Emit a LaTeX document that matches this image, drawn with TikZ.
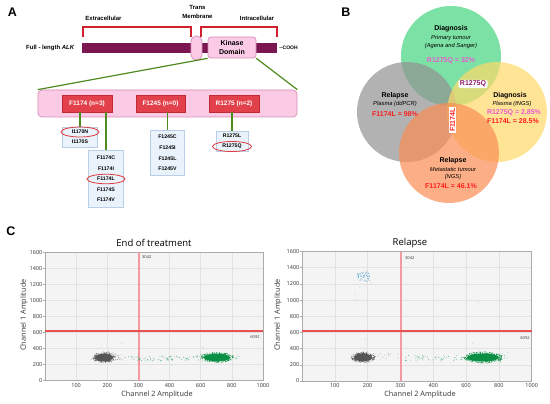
\documentclass[tikz,border=0pt]{standalone}
\usepackage{fontspec}
\setmainfont{Liberation Sans}
\newfontfamily\plotfont{Open Sans}
\usetikzlibrary{shapes.geometric}
\definecolor{barcol}{HTML}{7B1750}
\definecolor{pinkfill}{HTML}{FBCBE6}
\definecolor{pinkdraw}{HTML}{D88AB8}
\definecolor{glinecol}{HTML}{4F8A1F}
\definecolor{redfill}{HTML}{E2404A}
\definecolor{reddraw}{HTML}{C02A35}
\definecolor{listfill}{HTML}{EAF2FB}
\definecolor{listdraw}{HTML}{B9CFE8}
\definecolor{ellred}{HTML}{E03A3A}
\definecolor{brackcol}{HTML}{D0202E}
\definecolor{vgreen}{HTML}{45D47E}
\definecolor{vgray}{HTML}{919191}
\definecolor{vyellow}{HTML}{FFD869}
\definecolor{vorange}{HTML}{FB8D54}
\definecolor{pinktxt}{HTML}{EA5BD0}
\definecolor{redtxt}{HTML}{FF1E1E}
\definecolor{purptxt}{HTML}{8C1C6E}
\definecolor{framefill}{HTML}{F4F4F4}
\definecolor{gridcol}{HTML}{E2E2E2}
\definecolor{framecol}{HTML}{ABABAB}
\definecolor{ticktxt}{HTML}{333333}
\definecolor{ptgray}{HTML}{555555}
\definecolor{ptgreen}{HTML}{0B8F45}
\definecolor{ptblue}{HTML}{3A9BCB}
\definecolor{ptorange}{HTML}{F2B48A}
\definecolor{thrvcol}{HTML}{F39AA0}
\definecolor{thrhcol}{HTML}{EC4F53}
\newcommand\myblob[7]{%
  \foreach \i in {1,...,#5}{%
    \pgfmathsetmacro\rr{sqrt(rnd)}%
    \pgfmathsetmacro\aa{360*rnd}%
    \fill[#6] ({#1+#3*\rr*cos(\aa)},{#2+#4*\rr*sin(\aa)}) circle (#7pt);
  }}
\newcommand\mystrip[7]{%
  \foreach \i in {1,...,#5}{%
    \pgfmathsetmacro\qx{#1+(#2-#1)*rnd}%
    \pgfmathsetmacro\qy{#3+#4*rand}%
    \fill[#6] (\qx,\qy) circle (#7pt);
  }}
\tikzset{
  panellbl/.style={font=\bfseries\fontsize{12.5}{13}\selectfont, inner sep=0},
  headtxt/.style={font=\bfseries\fontsize{6}{9}\selectfont, inner sep=0, align=center},
  bracket/.style={draw=brackcol, line width=1.2pt},
  pinkbox/.style={fill=pinkfill, draw=pinkdraw, line width=0.7pt, inner sep=0},
  gline/.style={draw=glinecol, line width=1.2pt},
  redbox/.style={fill=redfill, draw=reddraw, line width=0.5pt, inner sep=0, minimum height=17, text=white, font=\bfseries\fontsize{6.5}{7}\selectfont},
  listbox/.style={fill=listfill, draw=listdraw, line width=0.6pt, inner sep=0},
  item/.style={font=\bfseries\fontsize{5.2}{6}\selectfont, inner sep=0},
  redell/.style={ellipse, draw=ellred, line width=0.8pt, inner sep=0},
  vcirc/.style={circle, minimum size=100, inner sep=0, fill opacity=0.7},
  vhead/.style={font=\bfseries\fontsize{7}{8}\selectfont, inner sep=0},
  vsub/.style={font=\itshape\fontsize{5.8}{7}\selectfont, inner sep=0},
  vval/.style={font=\bfseries\fontsize{7}{8}\selectfont, inner sep=0},
  plotframe/.style={draw=framecol, line width=0.8pt},
  gridln/.style={draw=gridcol, line width=0.5pt},
  ticklbl/.style={font=\plotfont\fontsize{5.5}{6}\selectfont, text=ticktxt, inner sep=0},
  axtitle/.style={font=\plotfont\fontsize{7.3}{8}\selectfont, text=ticktxt, inner sep=0},
  ptitle/.style={font=\plotfont\fontsize{9.5}{10}\selectfont, inner sep=0},
  thrlbl/.style={font=\plotfont\fontsize{4}{5}\selectfont, text=ticktxt, inner sep=0},
  thrv/.style={draw=thrvcol, line width=2pt},
  thrh/.style={draw=thrhcol, line width=1.6pt},
}
\begin{document}
\begin{tikzpicture}[x=1pt,y=-1pt]
\useasboundingbox (0,0) rectangle (550,404);
\pgfmathsetseed{7}
% ================= Panel A =================
\node[panellbl] (labA) at (12.5,12.5) {A};
\node[headtxt] (extra) at (103.5,18) {Extracellular};
\node[headtxt] (trans) at (197.5,11.5) {Trans\\Membrane};
\node[headtxt] (intra) at (257,18) {Intracellular};
\draw[bracket] (83,37) -- (83,27) -- (191,27) -- (191,37);
\draw[bracket] (201,37) -- (201,27) -- (277,27) -- (277,37);
\node[fill=barcol, minimum width=195, minimum height=10, inner sep=0] (bar) at (179.5,48) {};
\node[headtxt, anchor=east] (full) at ([xshift=-7]bar.west) {Full - length \textit{ALK}};
\node[font=\bfseries\fontsize{5}{6}\selectfont, inner sep=0, anchor=west] (cooh) at ([xshift=2]bar.east) {{-}{-}COOH};
\node[pinkbox, rounded corners=5, minimum width=11, minimum height=24] (tmd) at (196.5,48) {};
\node[pinkbox, rounded corners=3, minimum width=48, minimum height=21, align=center, font=\bfseries\fontsize{7}{9}\selectfont] (kin) at (232,47.5) {Kinase\\Domain};
\node[pinkbox, rounded corners=4, minimum width=259, minimum height=27] (kbox) at (167.5,103.5) {};
\draw[gline] (kin.south west) -- (kbox.north west);
\draw[gline] (kin.south east) -- (kbox.north east);
\node[redbox, minimum width=50] (r1) at (87,103.5) {F1174 (n=3)};
\node[redbox, minimum width=49] (r2) at (160.5,103.5) {F1245 (n=0)};
\node[redbox, minimum width=50] (r3) at (234,103.5) {R1275 (n=2)};
% lists
\node[listbox, minimum width=35, minimum height=20] (l1) at (80,137) {};
\node[listbox, minimum width=35, minimum height=57] (l2) at (106,178.5) {};
\node[listbox, minimum width=34, minimum height=45] (l3) at (167.5,152.5) {};
\node[listbox, minimum width=32, minimum height=20] (l4) at (232,141) {};
\draw[gline] (l1.north) -- (l1.north |- r1.south);
\draw[gline] (l2.north) -- (l2.north |- r1.south);
\draw[gline] (l3.north) -- (l3.north |- r2.south);
\draw[gline] (l4.north) -- (l4.north |- r3.south);
\node[item] (m1) at (80,132) {I1170N};
\node[item] (m2) at (80,142) {I1170S};
\node[item] (m3) at (106,158) {F1174C};
\node[item] (m4) at (106,168.5) {F1174I};
\node[item] (m5) at (106,179) {F1174L};
\node[item] (m6) at (106,189.5) {F1174S};
\node[item] (m7) at (106,200) {F1174V};
\node[item] (m8) at (167.5,137) {F1245C};
\node[item] (m9) at (167.5,148) {F1245I};
\node[item] (m10) at (167.5,158.5) {F1245L};
\node[item] (m11) at (167.5,169) {F1245V};
\node[item] (m12) at (232,136) {R1275L};
\node[item] (m13) at (232,146.5) {R1275Q};
\node[redell, minimum width=38, minimum height=10] (e1) at (m1) {};
\node[redell, minimum width=38, minimum height=9.5] (e2) at (m5) {};
\node[redell, minimum width=39, minimum height=10] (e3) at (m13) {};
% ================= Panel B =================
\node[panellbl] (labB) at (346,12.5) {B};
\node[vcirc, fill=vgreen] (vg) at (451,56) {};
\node[vcirc, fill=vgray] (vy) at (407,112) {};
\node[vcirc, fill=vyellow] (vw) at (497,112) {};
\node[vcirc, fill=vorange] (vo) at (449,153) {};
\node[vhead] (g1) at (451,29) {Diagnosis};
\node[vsub] (g2) at (451,38) {Primary tumour};
\node[vsub] (g3) at (451,46.5) {(Agena and Sanger)};
\node[vval, text=pinktxt] (g4) at (451,61) {R1275Q = 32\%};
\node[vval, text=purptxt, fill=white, rounded corners=1.5, inner xsep=1.5, inner ysep=1] (ov1) at (473,84) {R1275Q};
\node[vhead] (y1) at (510,96) {Diagnosis};
\node[vsub] (y2) at (512,104) {Plasma (tNGS)};
\node[vval, text=pinktxt] (y3) at (514,112.5) {R1275Q = 2.85\%};
\node[vval, text=redtxt] (y4) at (513,121) {F1174L = 28.5\%};
\node[vhead] (a1) at (395,96) {Relapse};
\node[vsub] (a2) at (395,104) {Plasma (ddPCR)};
\node[vval, text=redtxt] (a3) at (395,114) {F1174L = 98\%};
\node[vhead] (o1) at (453,161) {Relapse};
\node[vsub] (o2) at (453,169) {Metastatic tumour};
\node[vsub] (o3) at (453,177) {(NGS)};
\node[vval, text=redtxt] (o4) at (451,186) {F1174L = 46.1\%};
\node[vval, text=redtxt, fill=white, rotate=90, inner xsep=1.5, inner ysep=1] (ov2) at (452.5,120) {F1174L};
% ================= Panel C =================
\node[panellbl] (labC) at (11,231.5) {C};
% ---- left plot ----
\fill[framefill] (45,252.3) rectangle (263,380.7);
\foreach \k in {1,...,7} \draw[gridln] (45,{380.7-16.05*\k}) -- (263,{380.7-16.05*\k});
\foreach \k in {1,2,4,5,6} \draw[gridln] ({45+31.14*\k},252.3) -- ({45+31.14*\k},380.7);
\draw[plotframe] (45,252.3) rectangle (263,380.7);
\draw[draw=framecol, line width=1.6pt] (45,252.3) -- (263,252.3);
\foreach \k/\v in {0/0,1/200,2/400,3/600,4/800,5/1000,6/1200,7/1400,8/1600}{
  \node[ticklbl, anchor=east] at (42.5,{380.7-16.05*\k}) {\v};
  \draw[draw=framecol, line width=0.5pt] (43,{380.7-16.05*\k}) -- (45,{380.7-16.05*\k});
}
\foreach \k/\v in {1/100,2/200,3/300,4/400,5/600,6/800,7/1000}
  \node[ticklbl] at ({45+31.14*\k},385.5) {\v};
\node[ptitle] (t1) at (154,243) {End of treatment};
\node[axtitle] (xa1) at (157,395) {Channel 2 Amplitude};
\node[axtitle, rotate=90] (ya1) at (24,315) {Channel 1 Amplitude};
\coordinate (v1t) at (139,252.3);
\coordinate (v1b) at (139,380.7);
\coordinate (h1l) at (45,331);
\coordinate (h1r) at (263,331);
\draw[thrv] (v1t) -- (v1b);
\draw[thrh] (h1l) -- (h1r);
\node[thrlbl, anchor=west] (th1) at (142,257.5) {3042};
\node[thrlbl] (th2) at (255,337.5) {6092};
% points
\mystrip{114}{127}{357}{3}{15}{ptgray!70}{0.35}
\myblob{105}{357.5}{15}{6}{60}{ptgray!75}{0.35}
\fill[ptgray] (104,357.5) ellipse [x radius=9pt, y radius=3.8pt];
\myblob{104}{357.5}{11.5}{5}{220}{ptgray}{0.45}
\mystrip{128}{198}{358.5}{2.5}{75}{ptgreen!80}{0.4}
\myblob{218}{357.5}{22}{5.5}{70}{ptgreen!85}{0.35}
\fill[ptgreen] (217,357.5) ellipse [x radius=13pt, y radius=3.8pt];
\myblob{217}{357.5}{16.5}{5}{260}{ptgreen}{0.45}
\fill[ptgray!80] (122,343) circle (0.45pt);
\fill[ptgreen] (203,347) circle (0.45pt);
\fill[ptgreen] (172,365) circle (0.45pt);
% ---- right plot ----
\fill[framefill] (302,251.5) rectangle (531.7,381);
\foreach \k in {1,...,7} \draw[gridln] (302,{381-16.19*\k}) -- (531.7,{381-16.19*\k});
\foreach \k in {1,2,4,5,6} \draw[gridln] ({302+32.81*\k},251.5) -- ({302+32.81*\k},381);
\draw[plotframe] (302,251.5) rectangle (531.7,381);
\draw[draw=framecol, line width=1.6pt] (302,251.5) -- (531.7,251.5);
\foreach \k/\v in {0/0,1/200,2/400,3/600,4/800,5/1000,6/1200,7/1400,8/1600}{
  \node[ticklbl, anchor=east] at (299.5,{381-16.19*\k}) {\v};
  \draw[draw=framecol, line width=0.5pt] (300,{381-16.19*\k}) -- (302,{381-16.19*\k});
}
\foreach \k/\v in {1/100,2/200,3/300,4/400,5/600,6/800,7/1000}
  \node[ticklbl] at ({302+32.81*\k},385.5) {\v};
\node[ptitle] (t2) at (410,243) {Relapse};
\node[axtitle] (xa2) at (420,395) {Channel 2 Amplitude};
\node[axtitle, rotate=90] (ya2) at (278,315) {Channel 1 Amplitude};
\coordinate (v2t) at (401,251.5);
\coordinate (v2b) at (401,381);
\coordinate (h2l) at (302,331);
\coordinate (h2r) at (531.7,331);
\draw[thrv] (v2t) -- (v2b);
\draw[thrh] (h2l) -- (h2r);
\node[thrlbl, anchor=west] (th3) at (405,258) {3042};
\node[thrlbl] (th4) at (525,338) {6092};
% points
\myblob{363}{277}{8.5}{5.5}{50}{ptblue}{0.4}
\foreach \p in {(355,294),(357,300),(360,287),(371,283),(367,271)} \fill[ptblue] \p circle (0.4pt);
\foreach \p in {(466,303),(478,302)} \fill[ptorange] \p circle (0.5pt);
\mystrip{375}{398}{356}{4}{12}{ptgray!70}{0.35}
\myblob{364}{357.5}{14}{6}{60}{ptgray!75}{0.35}
\fill[ptgray] (363,357.5) ellipse [x radius=9pt, y radius=3.8pt];
\myblob{363}{357.5}{12}{5}{220}{ptgray}{0.45}
\fill[ptgray!80] (365,339) circle (0.45pt);
\mystrip{405}{462}{358.5}{3}{55}{ptgreen!75}{0.4}
\myblob{484}{357.5}{24}{6}{80}{ptgreen!85}{0.35}
\fill[ptgreen] (483,357.5) ellipse [x radius=16pt, y radius=4pt];
\myblob{483}{357.5}{20}{5.5}{320}{ptgreen}{0.45}
\fill[ptgreen] (473,343) circle (0.45pt);
\fill[ptgreen] (508,353) circle (0.45pt);
\end{tikzpicture}
\end{document}
